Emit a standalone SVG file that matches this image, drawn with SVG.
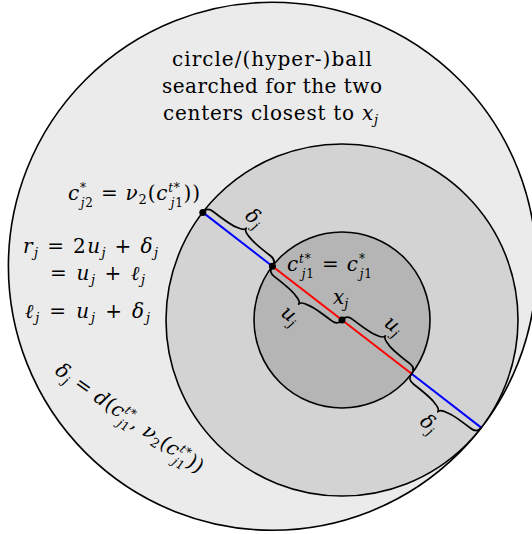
<svg xmlns="http://www.w3.org/2000/svg" width="532" height="534" viewBox="0 0 532 534">
<style>
.c{stroke:#000;stroke-width:1.6}
.t{font-family:"DejaVu Serif","Liberation Serif",serif;font-size:20px;fill:#000}
.i{font-style:italic}
.s{font-size:13px}
.ss{font-size:12px}
.br{fill:none;stroke:#000;stroke-width:1.7;stroke-linejoin:round;stroke-linecap:round}
.ln{stroke-width:2;fill:none}
.dot{fill:#000}
</style>
<defs>
<path id="brace" class="br" d="M0,0 C0,-5 3,-7 8,-7 C20,-7 30,-7 36,-9 C41,-10 44,-12 44,-14 C44,-12 47,-10 52,-9 C58,-7 68,-7 80,-7 C85,-7 88,-5 88,0"/>
</defs>
<rect width="532" height="534" fill="#fff"/>
<g id="outer-ball">
<circle class="c" cx="272.4" cy="266.2" r="264" fill="#ebebeb"/>
<text class="t" x="172" y="66" textLength="200" lengthAdjust="spacing">circle/(hyper-)ball</text>
<text class="t" x="162" y="93" textLength="220" lengthAdjust="spacing">searched for the two</text>
<text class="t" x="163" y="120" textLength="215" lengthAdjust="spacing">centers closest to <tspan class="i">x</tspan><tspan class="s i" dy="4">j</tspan></text>
</g>
<g id="middle-ball"><circle class="c" cx="342" cy="320" r="176" fill="#d3d3d3"/></g>
<g id="inner-ball"><circle class="c" cx="342" cy="320" r="88" fill="#b5b5b5"/></g>
<g id="connectors">
<line class="ln" x1="202.8" y1="212.4" x2="272.4" y2="266.2" stroke="#0000ff"/>
<line class="ln" x1="272.4" y1="266.2" x2="411.6" y2="373.8" stroke="#ff0000"/>
<line class="ln" x1="411.6" y1="373.8" x2="481.2" y2="427.6" stroke="#0000ff"/>
<g transform="translate(202.8,212.4) rotate(37.7)"><use href="#brace"/><text class="t" x="44" y="-21" text-anchor="middle"><tspan class="i">δ</tspan><tspan class="s i" dy="4">j</tspan></text></g>
<g transform="translate(272.4,266.2) rotate(37.7)"><use href="#brace" transform="scale(1,-1)"/><text class="t" x="44" y="34" text-anchor="middle"><tspan class="i">u</tspan><tspan class="s i" dy="4">j</tspan></text></g>
<g transform="translate(342,320) rotate(37.7)"><use href="#brace"/><text class="t" x="44" y="-21" text-anchor="middle"><tspan class="i">u</tspan><tspan class="s i" dy="4">j</tspan></text></g>
<g transform="translate(411.6,373.8) rotate(37.7)"><use href="#brace" transform="scale(1,-1)"/><text class="t" x="44" y="35" text-anchor="middle"><tspan class="i">δ</tspan><tspan class="s i" dy="4">j</tspan></text></g>
</g>
<g id="node-cj2">
<circle class="dot" cx="202.8" cy="212.4" r="3.5"/>
<text class="t" x="68" y="200" textLength="132" lengthAdjust="spacing"><tspan class="i">c</tspan><tspan class="ss" dy="-8">*</tspan><tspan class="ss i" dx="-6" dy="15">j</tspan><tspan class="ss">2</tspan><tspan dy="-7"> = </tspan><tspan class="i">ν</tspan><tspan class="s" dy="4">2</tspan><tspan dy="-4">(</tspan><tspan class="i">c</tspan><tspan class="ss i" dy="-8">t</tspan><tspan class="ss">*</tspan><tspan class="ss i" dx="-10" dy="15">j</tspan><tspan class="ss">1</tspan><tspan dy="-7">))</tspan></text>
</g>
<g id="node-cj1">
<circle class="dot" cx="272.4" cy="266.2" r="3.5"/>
<text class="t" x="287" y="271" textLength="85" lengthAdjust="spacing"><tspan class="i">c</tspan><tspan class="ss i" dy="-8">t</tspan><tspan class="ss">*</tspan><tspan class="ss i" dx="-10" dy="15">j</tspan><tspan class="ss">1</tspan><tspan dy="-7"> = </tspan><tspan class="i">c</tspan><tspan class="ss" dy="-8">*</tspan><tspan class="ss i" dx="-6" dy="15">j</tspan><tspan class="ss">1</tspan></text>
</g>
<g id="node-xj">
<circle class="dot" cx="342" cy="320" r="3.5"/>
<text class="t" x="333" y="304"><tspan class="i">x</tspan><tspan class="s i" dy="4">j</tspan></text>
</g>
<g id="formulas">
<text class="t" x="23" y="253" textLength="135" lengthAdjust="spacing"><tspan class="i">r</tspan><tspan class="s i" dy="4">j</tspan><tspan dy="-4"> = 2</tspan><tspan class="i">u</tspan><tspan class="s i" dy="4">j</tspan><tspan dy="-4"> + </tspan><tspan class="i">δ</tspan><tspan class="s i" dy="4">j</tspan></text>
<text class="t" x="50" y="280" textLength="95" lengthAdjust="spacing">= <tspan class="i">u</tspan><tspan class="s i" dy="4">j</tspan><tspan dy="-4"> + </tspan><tspan class="i">ℓ</tspan><tspan class="s i" dy="4">j</tspan></text>
<text class="t" x="25" y="318" textLength="125" lengthAdjust="spacing"><tspan class="i">ℓ</tspan><tspan class="s i" dy="4">j</tspan><tspan dy="-4"> = </tspan><tspan class="i">u</tspan><tspan class="s i" dy="4">j</tspan><tspan dy="-4"> + </tspan><tspan class="i">δ</tspan><tspan class="s i" dy="4">j</tspan></text>
<text class="t" transform="translate(54,373) rotate(35)" textLength="176" lengthAdjust="spacing"><tspan class="i">δ</tspan><tspan class="s i" dy="4">j</tspan><tspan dy="-4"> = </tspan><tspan class="i">d</tspan>(<tspan class="i">c</tspan><tspan class="ss i" dy="-8">t</tspan><tspan class="ss">*</tspan><tspan class="ss i" dx="-10" dy="15">j</tspan><tspan class="ss">1</tspan><tspan dy="-7">, </tspan><tspan class="i">ν</tspan><tspan class="s" dy="4">2</tspan><tspan dy="-4">(</tspan><tspan class="i">c</tspan><tspan class="ss i" dy="-8">t</tspan><tspan class="ss">*</tspan><tspan class="ss i" dx="-10" dy="15">j</tspan><tspan class="ss">1</tspan><tspan dy="-7">))</tspan></text>
</g>
</svg>
